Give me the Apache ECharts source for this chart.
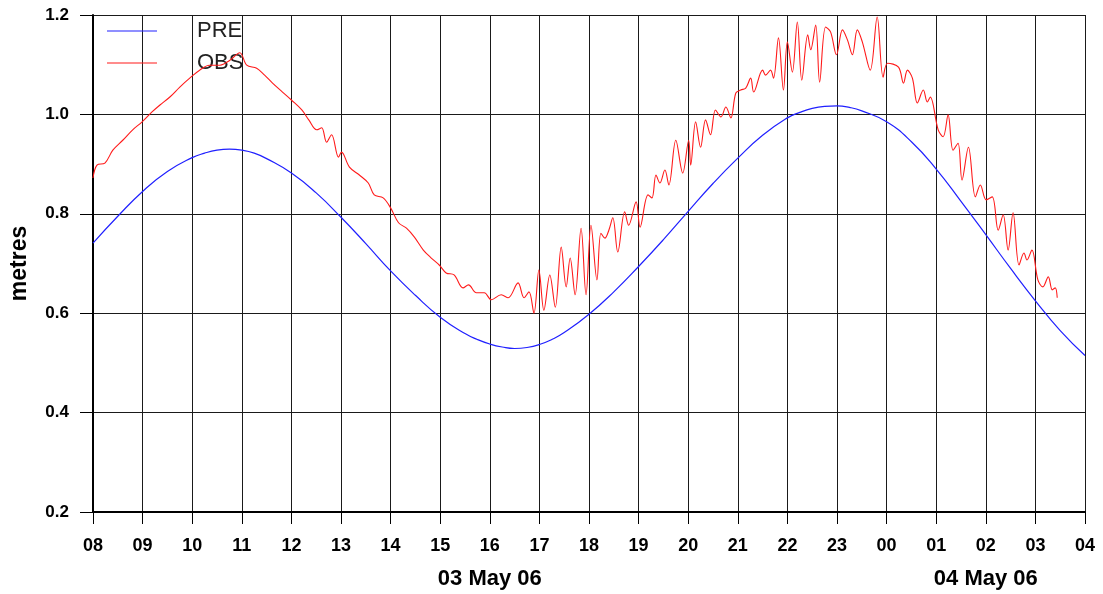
<!DOCTYPE html>
<html>
<head>
<meta charset="utf-8">
<script src="https://cdn.jsdelivr.net/npm/echarts@6/dist/echarts.min.js"></script>
<style>
html,body{margin:0;padding:0;background:#fff;}
#chart{width:1103px;height:594px;}
</style>
</head>
<body>
<div id="chart"></div>
<script>
// Time in hours since 00:00 on 03 May 06 (24+ = 04 May 06)
var preTime = [8,8.5,9,9.5,10,10.25,10.5,10.75,11,11.25,11.5,12,12.5,13,13.5,14,14.5,15,15.5,15.75,16,16.25,16.5,16.75,17,17.25,17.5,18,18.5,19,19.5,20,20.5,21,21.5,22,22.25,22.5,22.75,23,23.25,23.5,24,24.5,25,25.5,26,26.5,27,27.5,28];
var preValue = [0.741,0.795,0.845,0.885,0.913,0.922,0.928,0.930,0.928,0.922,0.911,0.882,0.842,0.793,0.740,0.685,0.636,0.592,0.559,0.547,0.538,0.532,0.529,0.531,0.537,0.547,0.561,0.598,0.643,0.694,0.748,0.805,0.861,0.912,0.958,0.993,1.004,1.012,1.016,1.017,1.014,1.007,0.985,0.945,0.890,0.825,0.758,0.690,0.625,0.565,0.515];

var obsTime = [8.00,8.08,8.24,8.40,8.60,8.80,8.99,9.19,9.35,9.55,9.75,9.95,10.15,10.35,10.56,10.76,10.96,11.10,11.30,11.46,11.62,11.82,
  12.00,12.21,12.35,12.51,12.61,12.71,12.81,12.95,13.01,13.17,13.37,13.55,13.67,13.85,14.00,14.16,14.32,14.48,14.66,14.82,14.98,15.12,15.28,15.46,15.57,15.73,15.89,
  16.03,16.23,16.37,16.57,16.69,16.79,16.89,16.99,17.09,17.21,17.32,17.44,17.54,17.62,17.72,17.84,17.94,18.04,18.16,18.24,18.32,18.40,18.48,18.58,18.72,18.80,18.95,
  19.03,19.19,19.27,19.35,19.43,19.53,19.61,19.75,19.89,20.01,20.05,20.15,20.25,20.35,20.45,20.55,20.66,20.76,20.86,20.96,21.06,21.16,21.26,21.32,21.50,21.56,21.66,21.72,
  21.82,21.92,22.00,22.10,22.20,22.29,22.41,22.47,22.57,22.65,22.77,22.87,22.99,23.11,23.21,23.31,23.41,23.51,23.67,23.81,23.93,24.02,24.24,24.34,24.42,24.52,24.62,24.74,
  24.82,24.88,25.04,25.14,25.24,25.34,25.44,25.52,25.65,25.79,25.89,26.01,26.13,26.25,26.35,26.45,26.55,26.67,26.77,26.83,26.93,27.05,27.15,27.26,27.34,27.40,27.44];
var obsValue = [0.872,0.898,0.902,0.928,0.948,0.969,0.985,1.005,1.019,1.035,1.055,1.073,1.089,1.099,1.099,1.109,1.124,1.099,1.093,1.079,1.063,1.045,
  1.029,1.009,0.989,0.969,0.973,0.944,0.959,0.914,0.924,0.894,0.878,0.862,0.838,0.832,0.812,0.782,0.771,0.753,0.727,0.711,0.697,0.681,0.677,0.651,0.657,0.641,0.641,
  0.627,0.637,0.631,0.661,0.631,0.643,0.600,0.687,0.606,0.677,0.612,0.733,0.653,0.711,0.637,0.771,0.637,0.777,0.667,0.761,0.751,0.767,0.792,0.723,0.804,0.777,0.824,
  0.773,0.838,0.832,0.878,0.862,0.888,0.858,0.948,0.882,0.948,0.898,0.985,0.934,0.989,0.959,1.009,0.995,1.015,0.993,1.043,1.049,1.053,1.073,1.045,1.089,1.079,1.089,1.073,
  1.154,1.049,1.146,1.085,1.186,1.069,1.160,1.130,1.180,1.065,1.176,1.166,1.120,1.170,1.150,1.120,1.170,1.146,1.089,1.196,1.075,1.103,1.095,1.063,1.089,1.073,1.023,1.049,
  1.025,1.035,0.969,0.955,0.999,0.928,0.942,0.868,0.934,0.834,0.858,0.828,0.834,0.767,0.798,0.727,0.802,0.697,0.721,0.707,0.727,0.667,0.653,0.673,0.647,0.651,0.631];

var dateLabels = {16: '03 May 06', 26: '04 May 06'};
var seriesNames = ['PRE', 'OBS'];

function pairs(t, v) { return t.map(function (x, i) { return [x, v[i]]; }); }
function hourLabel(v) { var h = Math.round(v) % 24; return (h < 10 ? '0' : '') + h; }

var FONT = 'Liberation Sans, Arial, Helvetica, sans-serif';
var chart = echarts.init(document.getElementById('chart'), null, {renderer: 'canvas'});
chart.setOption({
  animation: false,
  backgroundColor: '#fff',
  grid: {left: 91, right: 18, top: 15, bottom: 82, containLabel: false},
  legend: {
    orient: 'vertical', left: 107, top: 20, padding: 0,
    icon: 'rect', itemWidth: 50, itemHeight: 1, itemGap: 10,
    data: seriesNames,
    textStyle: {fontFamily: FONT, fontSize: 22, color: '#222', lineHeight: 22, padding: [0, 0, 0, 35]}
  },
  xAxis: [{
    type: 'value', min: 8, max: 28, interval: 1,
    axisLine: {show: true, onZero: false, lineStyle: {color: '#000', width: 2}},
    axisTick: {show: true, length: 12, lineStyle: {color: '#000', width: 1}},
    axisLabel: {formatter: hourLabel, fontFamily: FONT, fontSize: 18, fontWeight: 'bold', color: '#000', margin: 25},
    splitLine: {show: true, lineStyle: {color: '#1a1a1a', width: 1}}
  }, {
    type: 'value', min: 8, max: 28, interval: 1, position: 'bottom',
    axisLine: {show: false}, axisTick: {show: false}, splitLine: {show: false},
    axisLabel: {
      formatter: function (v) { return dateLabels[Math.round(v)] || ''; },
      fontFamily: FONT, fontSize: 22, fontWeight: 'bold', color: '#000', margin: 56
    }
  }],
  yAxis: {
    type: 'value', min: 0.2, max: 1.2, interval: 0.2,
    name: 'metres', nameLocation: 'middle', nameRotate: 90, nameGap: 62,
    nameTextStyle: {fontFamily: FONT, fontSize: 23, fontWeight: 'bold', color: '#000'},
    axisLine: {show: true, lineStyle: {color: '#000', width: 2}},
    axisTick: {show: true, length: 13, lineStyle: {color: '#000', width: 1}},
    axisLabel: {formatter: function (v) { return v.toFixed(1); }, fontFamily: FONT, fontSize: 17, fontWeight: 'bold', color: '#000', margin: 24},
    splitLine: {show: true, lineStyle: {color: '#1a1a1a', width: 1}}
  },
  series: [{
    name: seriesNames[0], type: 'line', xAxisIndex: 0, symbol: 'none', smooth: 0.5,
    data: pairs(preTime, preValue),
    lineStyle: {color: '#2020ff', width: 1.2}, itemStyle: {color: '#2020ff'}, z: 3
  }, {
    name: seriesNames[1], type: 'line', xAxisIndex: 0, symbol: 'none', smooth: 0.35,
    data: pairs(obsTime, obsValue),
    lineStyle: {color: '#ff1a1a', width: 1.1}, itemStyle: {color: '#ff1a1a'}, z: 4
  }]
});
</script>
</body>
</html>
